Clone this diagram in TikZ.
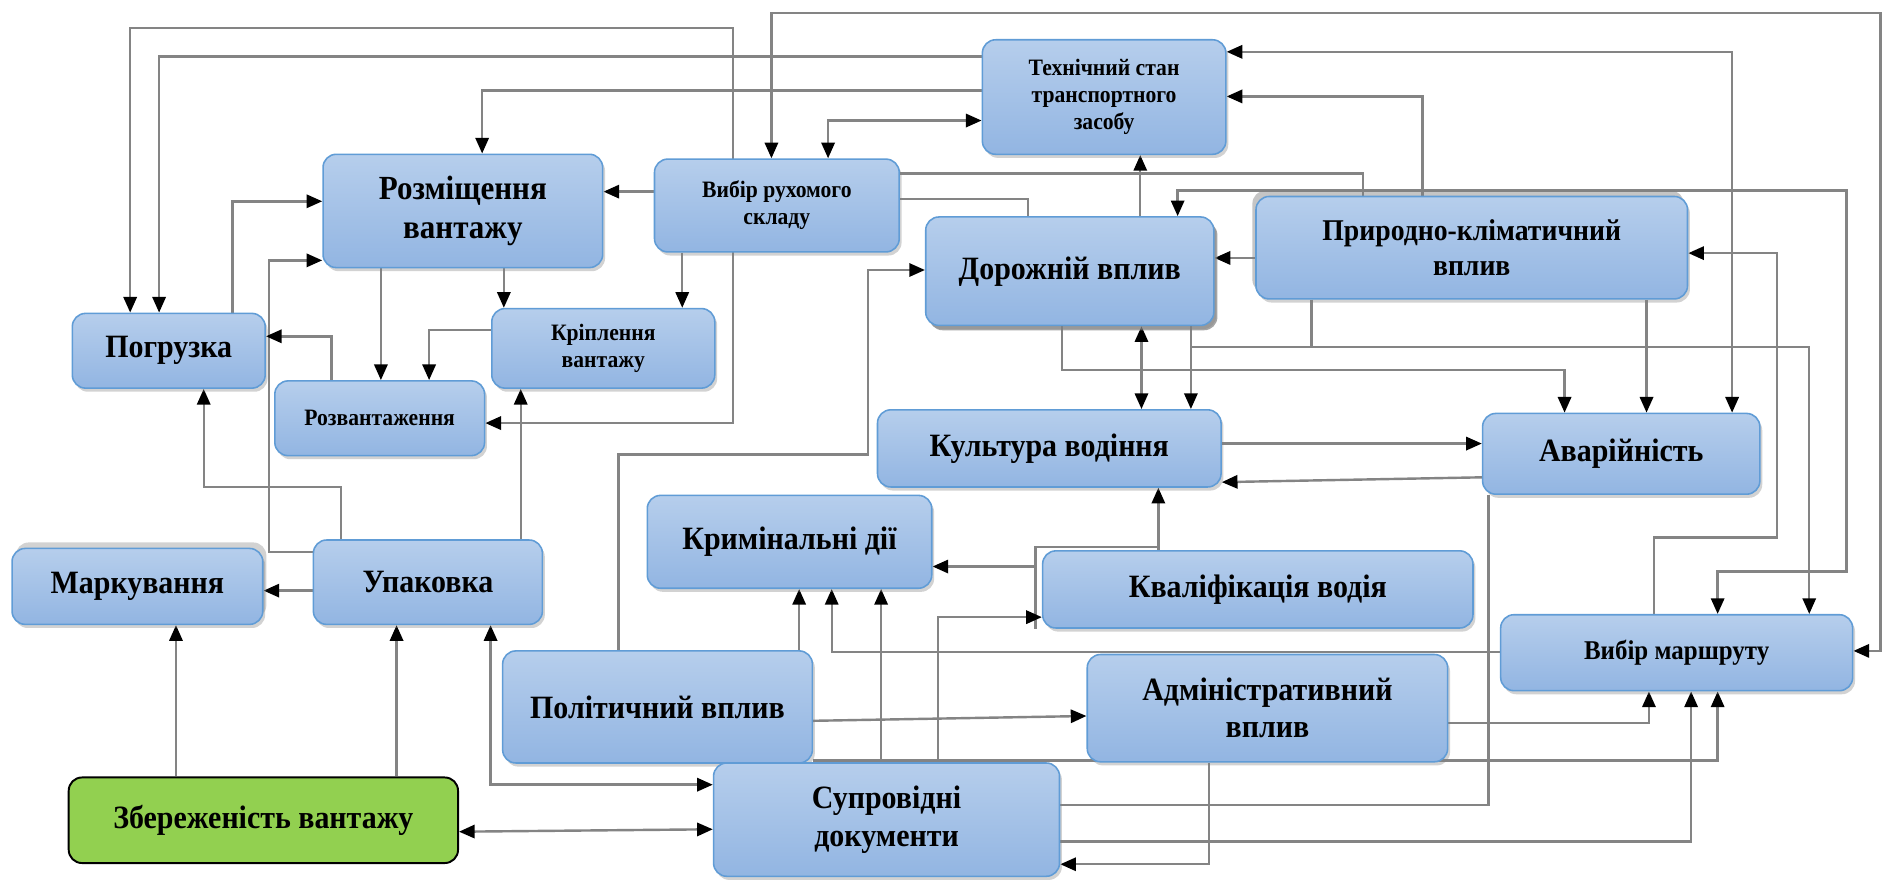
\documentclass[tikz,border=0pt]{standalone}
\usepackage{fontspec}
\setmainfont{Liberation Serif}[FakeStretch=0.92]
\usetikzlibrary{arrows.meta,shadows,backgrounds}

\definecolor{boxtop}{RGB}{182,206,236}
\definecolor{boxbot}{RGB}{146,181,226}
\definecolor{boxedge}{RGB}{96,156,214}
\definecolor{wirec}{RGB}{132,132,132}
\definecolor{keepgreen}{RGB}{146,208,80}

\newcommand\txtL{\fontsize{27}{31}\selectfont}
\newcommand\txtM{\fontsize{25}{29}\selectfont}
\newcommand\txtN{\fontsize{22.5}{26}\selectfont}
\newcommand\txtS{\fontsize{19.5}{22.5}\selectfont}

\tikzset{
  box/.style={draw=boxedge, line width=1.3pt, rounded corners=11pt,
    top color=boxtop, bottom color=boxbot, align=center, inner sep=2pt,
    font=\bfseries\txtL,
    drop shadow={shadow xshift=2pt, shadow yshift=-3pt, opacity=0.35}},
  upshade/.style={drop shadow={shadow xshift=-3pt, shadow yshift=5pt, opacity=0.45}},
  greenbox/.style={draw=black, line width=1.6pt, rounded corners=11pt,
    fill=keepgreen, align=center, inner sep=2pt, font=\bfseries\txtL},
  sz/.style 2 args={minimum width=#1pt, minimum height=#2pt},
  wire/.style={draw=wirec, line width=2pt},
  arr/.style={wire, -{Triangle[length=13pt,width=11pt,color=black]}},
  both/.style={wire, {Triangle[length=13pt,width=11pt,color=black]}-{Triangle[length=13pt,width=11pt,color=black]}},
}

\begin{document}
\begin{tikzpicture}[x=1pt,y=-1pt]
\useasboundingbox (0,0) rectangle (1568,733);

% ---- blocks ----
\node[box, sz={202}{95}, font=\bfseries\txtS] (ts) at (916,80.5) {Технічний стан\\транспортного\\засобу};
\node[box, sz={232}{94}, font=\bfseries\fontsize{28}{32}\selectfont] (rv) at (384,175) {Розміщення\\вантажу};
\node[box, sz={203}{77}, font=\bfseries\txtS] (vrs) at (644.5,170.5) {Вибір рухомого\\складу};
\node[box, sz={239}{90}, drop shadow={shadow xshift=3pt, shadow yshift=-4pt, opacity=0.7}] (dv) at (887.5,225) {Дорожній вплив};
\node[box, upshade, sz={358}{85}, font=\bfseries\txtM] (pk) at (1221,205.5) {Природно-кліматичний\\вплив};
\node[box, sz={160}{62}] (pog) at (140,291) {Погрузка};
\node[box, sz={185}{66}, font=\bfseries\txtS] (kv) at (500.5,289) {Кріплення\\вантажу};
\node[box, sz={174}{62}, font=\bfseries\txtS] (roz) at (315,347) {Розвантаження};
\node[box, sz={285}{64}] (kul) at (870.5,372) {Культура водіння};
\node[box, sz={230}{67}] (av) at (1345,376.5) {Аварійність};
\node[box, sz={236}{77}] (kd) at (655,449.5) {Кримінальні дії};
\node[box, sz={357}{64}] (kvd) at (1043.5,489) {Кваліфікація водія};
\node[box, drop shadow={shadow xshift=3pt, shadow yshift=5pt, opacity=0.35}, sz={208}{63}] (mark) at (114,486.5) {Маркування};
\node[box, sz={190}{70}] (up) at (355,483) {Упаковка};
\node[box, sz={292}{63}, font=\bfseries\txtN] (vm) at (1391,541.5) {Вибір маршруту};
\node[box, sz={257}{93}] (pol) at (545.5,586.5) {Політичний вплив};
\node[box, sz={299}{89}] (adm) at (1051.5,587.5) {Адміністративний\\вплив};
\node[greenbox, sz={323}{71}] (zb) at (218.5,680.5) {Збереженість вантажу};
\node[box, sz={287}{94}] (sd) at (735.5,680) {Супровідні\\документи};

% ---- connectors ----
\begin{scope}[on background layer]
  \fill[white] (0,0) rectangle (1568,733);
  % top routes
  \draw[both] (pog.north -| 108,0) -- (108,23) -- (608,23) -- (608,351) -- (roz.east |- 0,351);
  \draw[arr] (ts.west |- 0,47) -- (132,47) -- (pog.north -| 132,0);
  \draw[arr] (ts.west |- 0,75) -- (400,75) -- (rv.north -| 400,0);
  \draw[both] (vrs.north -| 640,0) -- (640,11) -- (1560,11) -- (1560,540) -- (vm.east |- 0,540);
  \draw[both] (vrs.north -| 687,0) -- (687,100) -- (ts.west |- 0,100);
  % rolling stock
  \draw[arr] (vrs.west |- 0,159) -- (rv.east |- 0,159);
  \draw[arr] (vrs.south -| 566,0) -- (kv.north -| 566,0);
  \draw[wire] (vrs.east |- 0,144) -- (1131,144) -- (pk.north -| 1131,0);
  \draw[wire] (vrs.east |- 0,165) -- (853,165) -- (dv.north -| 853,0);
  % vehicle condition
  \draw[arr] (dv.north -| 946,0) -- (ts.south -| 946,0);
  \draw[arr] (pk.north -| 1180,0) -- (1180,80) -- (ts.east |- 0,80);
  \draw[both] (ts.east |- 0,43) -- (1437,43) -- (av.north -| 1437,0);
  \draw[both] (dv.north -| 977,0) -- (977,158) -- (1532,158) -- (1532,474) -- (1425,474) -- (vm.north -| 1425,0);
  % climate and road
  \draw[arr] (pk.west |- 0,214) -- (dv.east |- 0,214);
  \draw[wire] (dv.south -| 988,0) -- (988,288);
  \draw[arr] (pk.south -| 1088,0) -- (1088,288) -- (988,288) -- (kul.north -| 988,0);
  \draw[arr] (pk.south -| 1088,0) -- (1088,288) -- (1501,288) -- (vm.north -| 1501,0);
  \draw[both] (dv.south -| 947,0) -- (kul.north -| 947,0);
  \draw[arr] (dv.south -| 881,0) -- (881,307) -- (1298,307) -- (av.north -| 1298,0);
  \draw[arr] (pk.south -| 1366,0) -- (av.north -| 1366,0);
  \draw[arr] (vm.north -| 1372,0) -- (1372,446) -- (1474,446) -- (1474,210) -- (pk.east |- 0,210);
  % driving culture and accidents
  \draw[arr] (kul.east |- 0,368) -- (av.west |- 0,368);
  \draw[arr] (av.west |- 0,396) -- (kul.east |- 0,400);
  \draw[arr] (kvd.north -| 961,0) -- (kul.south -| 961,0);
  \draw[wire] (kvd.north -| 961,0) |- (859,454) -- (859,522);
  \coordinate (kvdtap) at (859,470);
  \draw[arr] (kvdtap) -- (kd.east |- 0,470);
  % criminal actions
  \draw[arr] (pol.north -| 663,0) -- (kd.south -| 663,0);
  \draw[arr] (vm.west |- 0,541) -- (690,541) -- (kd.south -| 690,0);
  \draw[arr] (sd.north -| 731,0) -- (kd.south -| 731,0);
  \draw[arr] (sd.north -| 778,0) -- (778,512) -- (kvd.west |- 0,512);
  % political influence
  \draw[arr] (pol.north -| 513,0) -- (513,377) -- (720,377) -- (720,224) -- (dv.west |- 0,224);
  \draw[arr] (pol.east |- 0,598) -- (adm.west |- 0,594);
  \draw[arr] (pol.south east |- 0,631) -- (1425,631) -- (vm.south -| 1425,0);
  % cargo side
  \draw[arr] (up.west |- 0,490) -- (mark.east |- 0,490);
  \draw[arr] (zb.north -| 146,0) -- (mark.south -| 146,0);
  \draw[arr] (zb.north -| 329,0) -- (up.south -| 329,0);
  \draw[both] (up.south -| 407,0) -- (407,651) -- (sd.west |- 0,651);
  \draw[both] (zb.east |- 0,690) -- (sd.west |- 0,688);
  \draw[arr] (pog.north -| 193,0) -- (193,167) -- (rv.west |- 0,167);
  \draw[arr] (up.west |- 0,458) -- (223,458) -- (223,216) -- (rv.west |- 0,216);
  \draw[arr] (roz.north -| 275,0) -- (275,279) -- (pog.east |- 0,279);
  \draw[arr] (rv.south -| 316,0) -- (roz.north -| 316,0);
  \draw[arr] (rv.south -| 418,0) -- (kv.north -| 418,0);
  \draw[arr] (kv.west |- 0,274) -- (356,274) -- (roz.north -| 356,0);
  \draw[arr] (up.north -| 432,0) -- (kv.south -| 432,0);
  \draw[arr] (up.north -| 283,0) -- (283,404) -- (169,404) -- (pog.south -| 169,0);
  % accompanying documents
  \draw[wire] (sd.east |- 0,668) -- (1235,668) -- (av.south -| 1235,0);
  \draw[arr] (sd.east |- 0,698) -- (1403,698) -- (vm.south -| 1403,0);
  \draw[arr] (adm.south -| 1003,0) -- (1003,717) -- (sd.east |- 0,717);
  \draw[arr] (adm.east |- 0,600) -- (1368,600) -- (vm.south -| 1368,0);
\end{scope}
\end{tikzpicture}
\end{document}
